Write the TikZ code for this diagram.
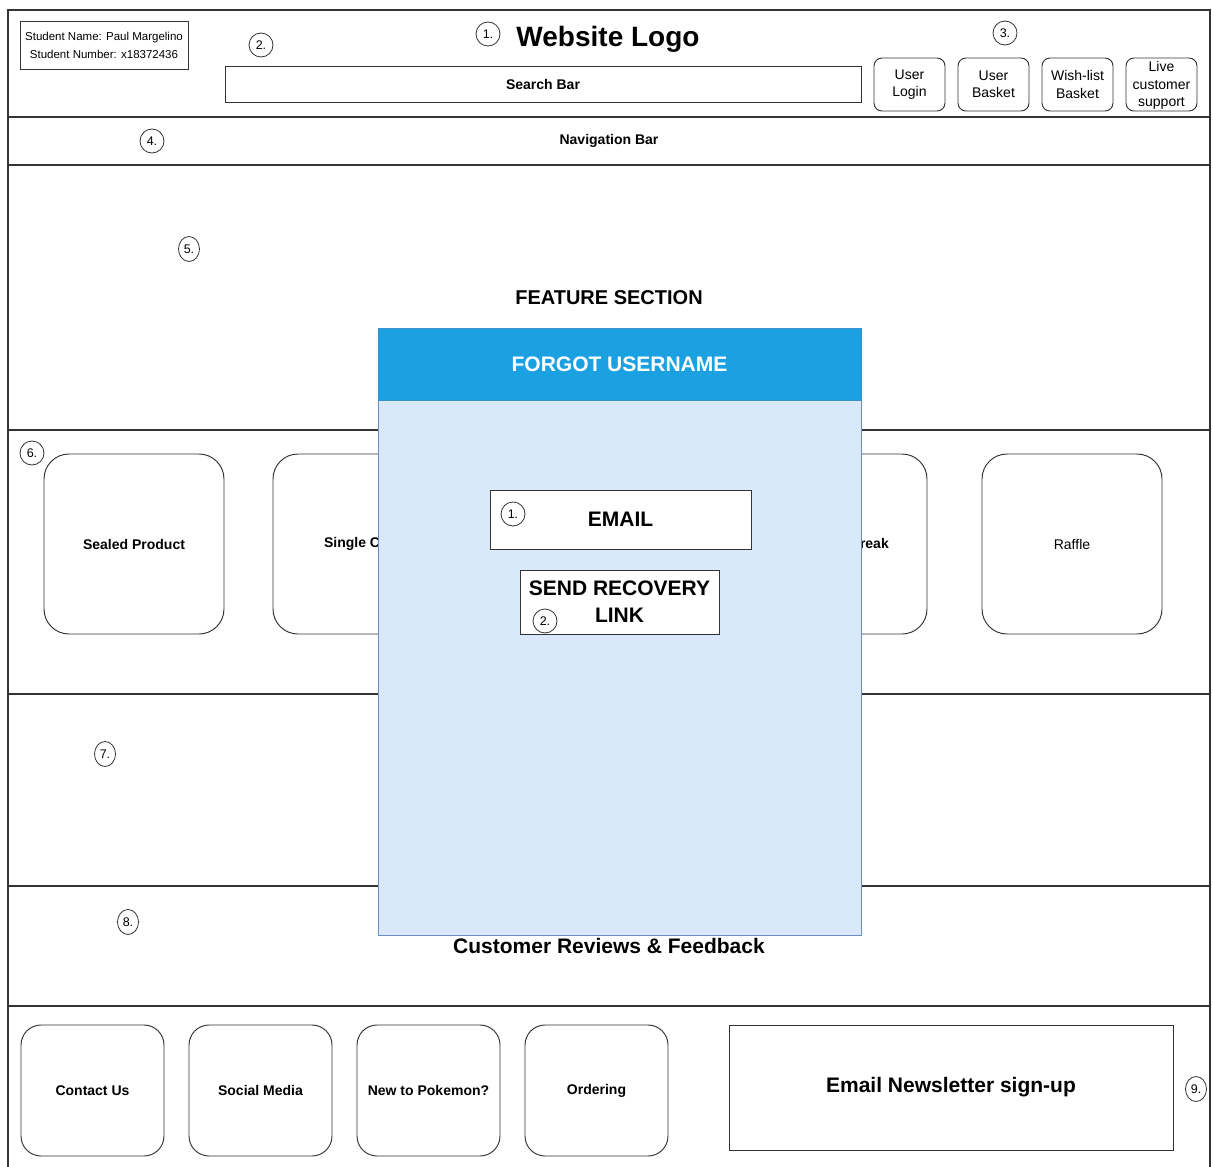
\documentclass[tikz,border=0pt]{standalone}
\usepackage{fontspec}
\setmainfont{Liberation Sans}
\usetikzlibrary{shapes.geometric}
\definecolor{ln}{HTML}{333333}
\definecolor{hdr}{HTML}{1BA1E2}
\definecolor{hdrb}{HTML}{3A8FD0}
\definecolor{bodyf}{HTML}{DAE8FC}
\definecolor{bodyb}{HTML}{6C8EBF}
\newcommand\mkbox[7]{\node[#6, minimum width=#4pt-#2pt, minimum height=#5pt-#3pt] (#1) at ({(#2+#4)/2},{(#3+#5)/2}) {#7};}
\begin{document}
\begin{tikzpicture}[x=1pt,y=-1pt,
  box/.style={draw=ln, line width=0.95pt, inner sep=0pt, outer sep=0pt, align=center, fill=white},
  band/.style={box, line width=1.2pt},
  rbox/.style={box, rounded corners=#1},
  num/.style={draw=ln, ellipse, line width=0.8pt, minimum width=24pt, minimum height=24pt, inner sep=0pt, font=\fontsize{12.5}{12.5}\selectfont},
  numn/.style={num, minimum width=21pt, minimum height=25pt},
  f14/.style={font=\fontsize{14}{17.5}\selectfont},
  b14/.style={font=\fontsize{14}{17}\selectfont\bfseries},
  b21/.style={font=\fontsize{21}{26}\selectfont\bfseries},
  small/.style={font=\fontsize{11.5}{18}\selectfont}
]
\useasboundingbox (0,0) rectangle (1213,1167);
\clip (0,0) rectangle (1213,1167);
\fill[white] (0,0) rectangle (1213,1167);

% bands
\mkbox{header}{8}{10}{1210}{117}{band}{}
\mkbox{nav}{8}{117}{1210}{165}{band, f14}{\bfseries Navigation Bar}
\mkbox{feature}{8}{165}{1210}{430}{band, font=\fontsize{20}{24}\selectfont\bfseries}{FEATURE SECTION}
\mkbox{cats}{8}{430}{1210}{694}{band}{}
\mkbox{sec7}{8}{694}{1210}{886}{band}{}
\mkbox{sec8}{8}{886}{1210}{1006}{band, b21}{Customer Reviews \& Feedback}
\mkbox{footer}{8}{1006}{1210}{1190}{band}{}

% header content
\mkbox{student}{20}{21}{188}{69}{box, small}{Student Name: Paul Margelino\\Student Number: x18372436}
\node[font=\fontsize{28}{30}\selectfont\bfseries] (logo) at (608,39) {Website Logo};
\mkbox{search}{225}{66}{861}{102}{box, b14}{Search Bar}
\mkbox{login}{874}{58}{945}{111}{rbox=8pt, f14}{User\\Login}
\mkbox{basket}{958}{58}{1029}{111}{rbox=8pt, f14}{User\\Basket}
\mkbox{wish}{1042}{58}{1113}{111}{rbox=8pt, f14}{Wish-list\\Basket}
\mkbox{live}{1126}{58}{1197}{111}{rbox=8pt, f14}{\strut Live\\customer\\support}

% category cards
\mkbox{sealed}{44}{454}{224}{634}{rbox=25pt, b14}{Sealed Product}
\mkbox{single}{273}{454}{453}{634}{rbox=25pt, b14}{Single Card}
\mkbox{breakbox}{747}{454}{927}{634}{rbox=25pt}{}
\node[b14, anchor=east, inner sep=0pt] (breaktxt) at (889,543) {Break};
\mkbox{raffle}{982}{454}{1162}{634}{rbox=25pt, f14}{Raffle}

% footer
\mkbox{contact}{21}{1025}{164}{1156}{rbox=20pt, b14}{Contact Us}
\mkbox{social}{189}{1025}{332}{1156}{rbox=20pt, b14}{Social Media}
\mkbox{newpk}{357}{1025}{500}{1156}{rbox=20pt, b14}{New to Pokemon?}
\mkbox{ordering}{525}{1025}{668}{1156}{rbox=20pt, b14}{Ordering}
\mkbox{newsletter}{729}{1025}{1173}{1150}{box, b21}{Email Newsletter sign-up}

% modal
\mkbox{mbody}{378}{400}{861}{935}{box, draw=bodyb, fill=bodyf, line width=1pt}{}
\mkbox{mhead}{378}{328}{861}{400}{box, draw=hdrb, fill=hdr, line width=1pt, text=white, b21}{FORGOT USERNAME}
\mkbox{email}{490}{490}{751}{549}{box, b21}{EMAIL}
\mkbox{send}{520}{570}{719}{634}{box, b21, font=\fontsize{21}{27}\selectfont\bfseries}{SEND RECOVERY\\LINK}

% numbered markers
\node[num] (n1) at (488,34) {1.};
\node[num] (n2) at (261,45) {2.};
\node[num] (n3) at (1005,33) {3.};
\node[num] (n4) at (152,141) {4.};
\node[numn] (n5) at (189,249) {5.};
\node[num] (n6) at (32,453) {6.};
\node[numn] (n7) at (105,754) {7.};
\node[numn] (n8) at (128,922) {8.};
\node[numn] (n9) at (1196,1089) {9.};
\node[num] (m1) at (513,514) {1.};
\node[num] (m2) at (545,621) {2.};
\end{tikzpicture}
\end{document}
